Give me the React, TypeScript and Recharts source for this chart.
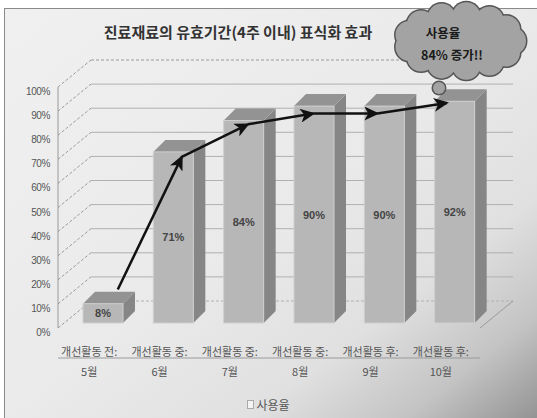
import React from 'react';
import { ComposedChart, Bar, Line, XAxis, YAxis, CartesianGrid, Legend } from 'recharts';

const phases = ['개선활동 전:', '개선활동 중:', '개선활동 중:', '개선활동 중:', '개선활동 후:', '개선활동 후:'];
const months = ['5월', '6월', '7월', '8월', '9월', '10월'];
const usageRate = [8, 71, 84, 90, 90, 92];
const yTicks = [0, 10, 20, 30, 40, 50, 60, 70, 80, 90, 100];
// hand-drawn arrow chain over the bars (category position, value)
const arrowX = [0.35, 1.26, 2.2, 3.13, 4.04, 5.03];
const arrowY = [16, 71, 84.5, 89, 89, 93.4];

const W = 537;
const H = 418;
const Y_AXIS_W = 40;
const X_AXIS_H = 60;
const MARGIN = { top: 87, right: 57, bottom: 30, left: 58 - Y_AXIS_W };
const PLOT_LEFT = MARGIN.left + Y_AXIS_W;
const PLOT_BOTTOM = H - MARGIN.bottom - X_AXIS_H;
const DX = 33; // wall depth
const DY = 27;
const BD = 12; // bar depth
const FONT = '"Noto Sans CJK KR", "Noto Sans", sans-serif';

const data = usageRate.map((rate, i) => {
  const row: Record<string, any> = {
    name: `${phases[i]} ${months[i]}`,
    rate,
    ax: arrowX[i],
  };
  for (let k = 0; k < arrowX.length - 1; k++) {
    row[`seg${k}`] = i === k || i === k + 1 ? arrowY[i] : null;
  }
  return row;
});

const GridLine = (props: any) => {
  const { x1, y1, x2, index } = props;
  const isBottom = Math.abs(y1 - PLOT_BOTTOM) < 1;
  const isTop = Math.abs(y1 - MARGIN.top) < 1;
  return (
    <g key={`grid-${index}`}>
      <line x1={x1} y1={y1} x2={x1 + DX} y2={y1 - DY} stroke="#9a9a9a" strokeDasharray="3 2" />
      <line
        x1={x1 + DX}
        y1={y1 - DY}
        x2={x2 + DX}
        y2={y1 - DY}
        stroke={isTop ? '#9a9a9a' : '#b0b0b0'}
        strokeDasharray={isTop || isBottom ? '3 2' : undefined}
      />
      {isBottom && <line x1={x2} y1={y1} x2={x2 + DX} y2={y1 - DY} stroke="#9a9a9a" />}
    </g>
  );
};

const Box3D = (props: any) => {
  const { x, y, width, height, value } = props;
  const fx = x + 10;
  const fy = y - 5;
  const w = width;
  const h = height;
  return (
    <g>
      <polygon
        points={`${fx + w},${fy} ${fx + w + BD},${fy - BD} ${fx + w + BD},${fy + h - BD} ${fx + w},${fy + h}`}
        fill="#868686"
      />
      <polygon
        points={`${fx},${fy} ${fx + BD},${fy - BD} ${fx + w + BD},${fy - BD} ${fx + w},${fy}`}
        fill="#939393"
      />
      <rect x={fx} y={fy} width={w} height={h} fill="#b7b7b7" stroke="#cfcfcf" strokeWidth={1} />
      <text
        x={fx + w / 2}
        y={fy + h / 2 + 4}
        textAnchor="middle"
        fontFamily='"Liberation Sans", Arial, sans-serif'
        fontSize={11}
        fontWeight="bold"
        fill="#444"
      >
        {`${value}%`}
      </text>
    </g>
  );
};

const YTick = (props: any) => {
  const { y, payload } = props;
  return (
    <text
      x={PLOT_LEFT - 8}
      y={y + 8}
      textAnchor="end"
      fontFamily='"Liberation Sans", Arial, sans-serif'
      fontSize={10}
      letterSpacing={-0.4}
      fill="#555"
    >
      {`${payload.value}%`}
    </text>
  );
};

const XTick = (props: any) => {
  const { x, index } = props;
  return (
    <g>
      <text x={x - 4} y={PLOT_BOTTOM + 28} textAnchor="middle" fontFamily={FONT} fontSize={11} fill="#555">
        {phases[index]}
      </text>
      <text x={x - 4} y={PLOT_BOTTOM + 48} textAnchor="middle" fontFamily={FONT} fontSize={11} fill="#555">
        {months[index]}
      </text>
    </g>
  );
};

const LegendContent = () => (
  <div style={{ display: 'flex', justifyContent: 'center', alignItems: 'center', fontFamily: FONT, fontSize: 12, color: '#555' }}>
    <span style={{ display: 'inline-block', width: 5, height: 7, background: '#f4f4f4', border: '1px solid #aaa', marginRight: 2 }} />
    사용율
  </div>
);

const cloudBumps = Array.from({ length: 13 }, (_, i) => {
  const a = (i / 13) * Math.PI * 2;
  return { cx: 460 + 52 * Math.cos(a), cy: 41 + 25 * Math.sin(a) };
});

const Overlay = () => (
  <svg width={W} height={H} style={{ position: 'absolute', left: 0, top: 0, pointerEvents: 'none' }}>
    <text x={238} y={38} textAnchor="middle" fontFamily={FONT} fontSize={15} fontWeight="bold" fill="#333">
      진료재료의 유효기간(4주 이내) 표식화 효과
    </text>
    <g>
      {cloudBumps.map((b, i) => (
        <circle key={`o${i}`} cx={b.cx} cy={b.cy} r={15.5} fill="#555" />
      ))}
      <circle cx={439} cy={88} r={7.5} fill="#555" />
      {cloudBumps.map((b, i) => (
        <circle key={`f${i}`} cx={b.cx} cy={b.cy} r={14} fill="#a3a3a3" />
      ))}
      <ellipse cx={460} cy={41} rx={54} ry={27} fill="#a3a3a3" />
      <circle cx={439} cy={88} r={6} fill="#a3a3a3" />
      <text x={443} y={38} textAnchor="middle" fontFamily={FONT} fontSize={12.5} fontWeight="bold" fill="#1a1a1a">
        사용율
      </text>
      <text x={452} y={60} textAnchor="middle" fontFamily={FONT} fontSize={12.5} fontWeight="bold" fill="#1a1a1a">
        84% 증가!!
      </text>
    </g>
  </svg>
);

export default function App() {
  return (
    <div style={{ position: 'absolute', left: 0, top: 0, width: W, height: H, overflow: 'hidden', background: '#fff' }}>
      <div
        style={{
          position: 'absolute',
          left: 4,
          top: 8,
          width: W,
          height: H,
          border: '1px solid #8a8a8a',
          background: 'linear-gradient(to bottom right, #f0f0f0 0%, #eaeaea 50%, #e0e0e0 72%, #c4c4c4 86%, #8e8e8e 100%)',
        }}
      />
      <svg width={0} height={0} style={{ position: 'absolute' }}>
        <defs>
          <marker id="arrowHead" markerUnits="userSpaceOnUse" markerWidth={16} markerHeight={14} refX={13} refY={7} orient="auto">
            <path d="M0,0 L15,7 L0,14 L4,7 z" fill="#111" />
          </marker>
        </defs>
      </svg>
      <div style={{ position: 'absolute', left: 0, top: 0 }}>
        <ComposedChart width={W} height={H} data={data} margin={MARGIN}>
          <CartesianGrid xAxisId="cat" vertical={false} horizontal={GridLine} />
          <XAxis
            xAxisId="cat"
            dataKey="name"
            height={X_AXIS_H}
            interval={0}
            tickLine={false}
            axisLine={{ stroke: '#9a9a9a' }}
            tick={<XTick />}
          />
          <XAxis xAxisId="arrow" type="number" dataKey="ax" domain={[-0.5, 5.5]} allowDataOverflow hide />
          <YAxis
            width={Y_AXIS_W}
            domain={[0, 100]}
            ticks={yTicks}
            interval={0}
            tickLine={false}
            axisLine={{ stroke: '#9a9a9a' }}
            tick={<YTick />}
          />
          <Bar xAxisId="cat" dataKey="rate" name="사용율" barSize={40} shape={<Box3D />} isAnimationActive={false} />
          {arrowX.slice(0, -1).map((_, k) => (
            <Line
              key={`seg${k}`}
              xAxisId="arrow"
              dataKey={`seg${k}`}
              stroke="#111"
              strokeWidth={2.5}
              dot={false}
              activeDot={false}
              legendType="none"
              connectNulls={false}
              markerEnd="url(#arrowHead)"
              isAnimationActive={false}
            />
          ))}
          <Legend
            verticalAlign="middle"
            align="center"
            content={<LegendContent />}
            wrapperStyle={{ top: 396, left: 0, width: W }}
          />
        </ComposedChart>
      </div>
      <Overlay />
    </div>
  );
}
